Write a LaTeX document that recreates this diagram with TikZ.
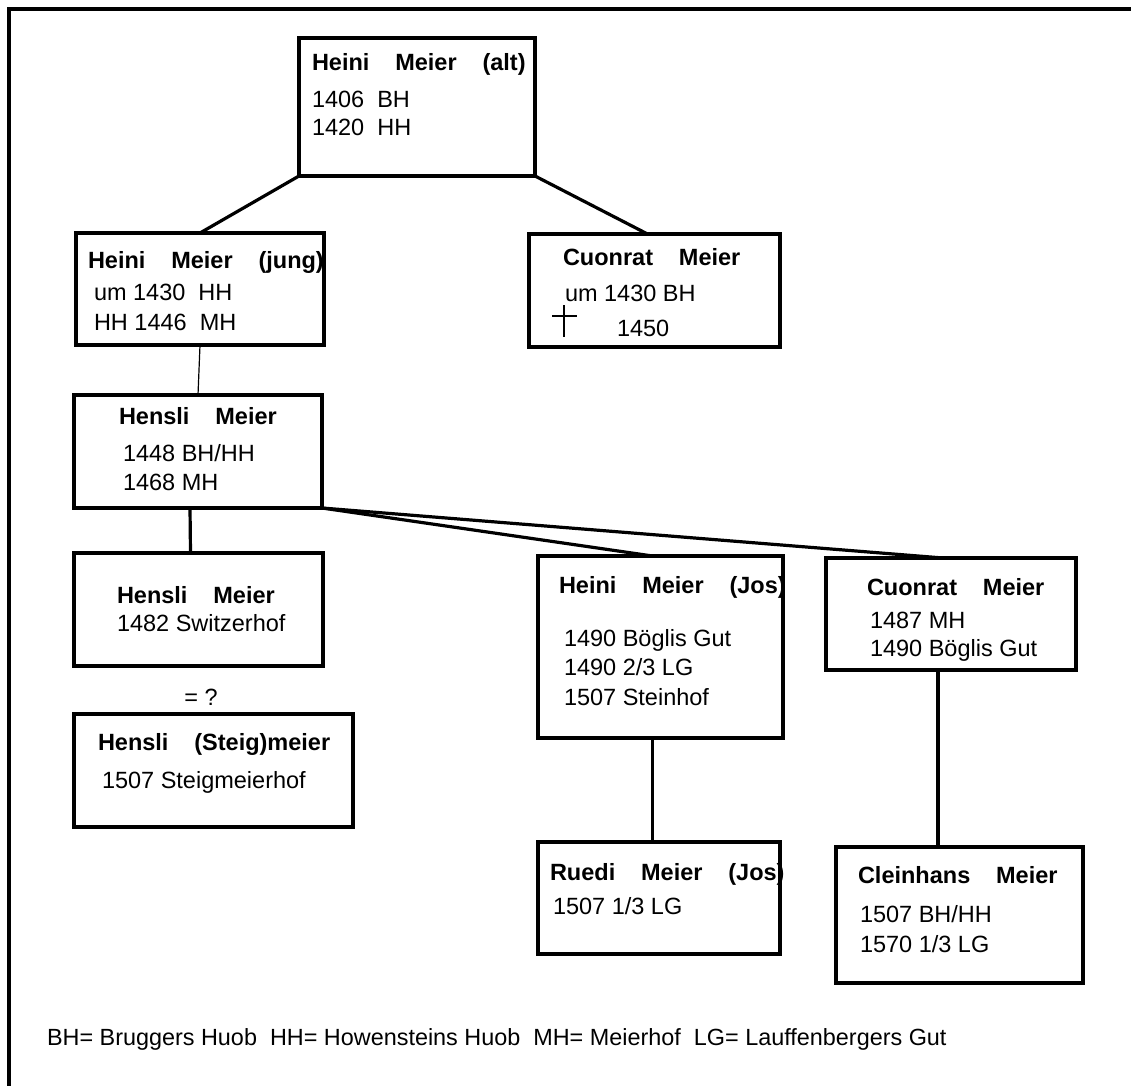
\documentclass[tikz,border=0pt]{standalone}
\usepackage{fontspec}
\setmainfont{Liberation Sans}
\usepackage{tikz}

\begin{document}
\begin{tikzpicture}[x=1pt, y=-1pt,
	every node/.append style={inner sep=0pt, outer sep=0pt},
	person/.style={draw=black, line width=3.2pt, rectangle},
	nametext/.style={anchor=base west, font={\fontsize{23.5}{28}\selectfont\bfseries\setlength{\spaceskip}{1.1em}}},
	datatext/.style={anchor=base west, font={\fontsize{23.5}{28}\selectfont}},
	keytext/.style={anchor=base west, font={\fontsize{23.4}{26}\selectfont}},
	link/.style={line width=3.2pt},
	thinlink/.style={line width=1.2pt}]
		\useasboundingbox (0,0) rectangle (1131,1086);
		\draw[line width=3.2pt] (1131,9) -- (9,9) -- (9,1086);

		\node[person, minimum width=236pt, minimum height=138pt] (alt) at (417,107) {};
		\node[nametext] (alt-n) at (312,71) {Heini Meier (alt)};
		\node[datatext] (alt-a) at (312,108) {1406\ \ BH};
		\node[datatext] (alt-b) at (312,136) {1420\ \ HH};

		\node[person, minimum width=248pt, minimum height=112pt] (jung) at (200,289) {};
		\node[nametext] (jung-n) at (88,268) {Heini Meier (jung)};
		\node[datatext] (jung-a) at (94,300) {um 1430\ \ HH};
		\node[datatext] (jung-b) at (94,330) {HH 1446\ \ MH};

		\node[person, minimum width=251pt, minimum height=113pt] (cuonrat) at (654.5,290.5) {};
		\node[nametext] (cuonrat-n) at (563,265) {Cuonrat Meier};
		\node[datatext] (cuonrat-a) at (565,301) {um 1430 BH};
		\node[datatext] (cuonrat-b) at (617,336) {1450};
		\draw[line width=2.4pt] (564,305) -- (564,337) (552,316) -- (577,316);

		\node[person, minimum width=248pt, minimum height=113pt] (hensli) at (198,451.5) {};
		\node[nametext] (hensli-n) at (119,424) {Hensli Meier};
		\node[datatext] (hensli-a) at (123,461) {1448 BH/HH};
		\node[datatext] (hensli-b) at (123,490) {1468 MH};

		\node[person, minimum width=249pt, minimum height=113pt] (swz) at (198.5,609.5) {};
		\node[nametext] (swz-n) at (117,603) {Hensli Meier};
		\node[datatext] (swz-a) at (117,631) {1482 Switzerhof};

		\node[datatext, anchor=center] (same) at (201,697) {= ?};

		\node[person, minimum width=279pt, minimum height=113pt] (steig) at (213.5,770.5) {};
		\node[nametext] (steig-n) at (98,750) {Hensli (Steig)meier};
		\node[datatext] (steig-a) at (102,788) {1507 Steigmeierhof};

		\node[person, minimum width=245pt, minimum height=182pt] (jos) at (660.5,647) {};
		\node[nametext] (jos-n) at (559,593) {Heini Meier (Jos)};
		\node[datatext] (jos-a) at (564,646) {1490 Böglis Gut};
		\node[datatext] (jos-b) at (564,675) {1490 2/3 LG};
		\node[datatext] (jos-c) at (564,705) {1507 Steinhof};

		\node[person, minimum width=250pt, minimum height=112pt] (cuon2) at (951,614) {};
		\node[nametext] (cuon2-n) at (867,595) {Cuonrat Meier};
		\node[datatext] (cuon2-a) at (870,628) {1487 MH};
		\node[datatext] (cuon2-b) at (870,656) {1490 Böglis Gut};

		\node[person, minimum width=242pt, minimum height=112pt] (ruedi) at (659,898) {};
		\node[nametext] (ruedi-n) at (550,880) {Ruedi Meier (Jos)};
		\node[datatext] (ruedi-a) at (553,914) {1507 1/3 LG};

		\node[person, minimum width=247pt, minimum height=136pt] (clein) at (959.5,915) {};
		\node[nametext] (clein-n) at (858,883) {Cleinhans Meier};
		\node[datatext] (clein-a) at (860,922) {1507 BH/HH};
		\node[datatext] (clein-b) at (860,952) {1570 1/3 LG};

		\node[keytext] (key) at (47,1045) {BH= Bruggers Huob\ \ HH= Howensteins Huob\ \ MH= Meierhof\ \ LG= Lauffenbergers Gut};

		\draw[link] (alt.south west) -- (jung.north);
		\draw[link] (alt.south east) -- ([xshift=-7pt]cuonrat.north);
		\draw[thinlink] (jung.south) -- (hensli.north);
		\draw[link] ([xshift=-8pt]hensli.south) -- ([xshift=-8pt]swz.north);
		\draw[link] (hensli.south east) -- ([xshift=-8pt]jos.north);
		\draw[link] (hensli.south east) -- ([xshift=-8pt]cuon2.north);
		\draw[link] ([xshift=-8pt]jos.south) -- ([xshift=-8pt]jos.south |- ruedi.north);
		\draw[link] ([xshift=-13pt]cuon2.south) -- ([xshift=-13pt]cuon2.south |- clein.north);
	\end{tikzpicture}
\end{document}
